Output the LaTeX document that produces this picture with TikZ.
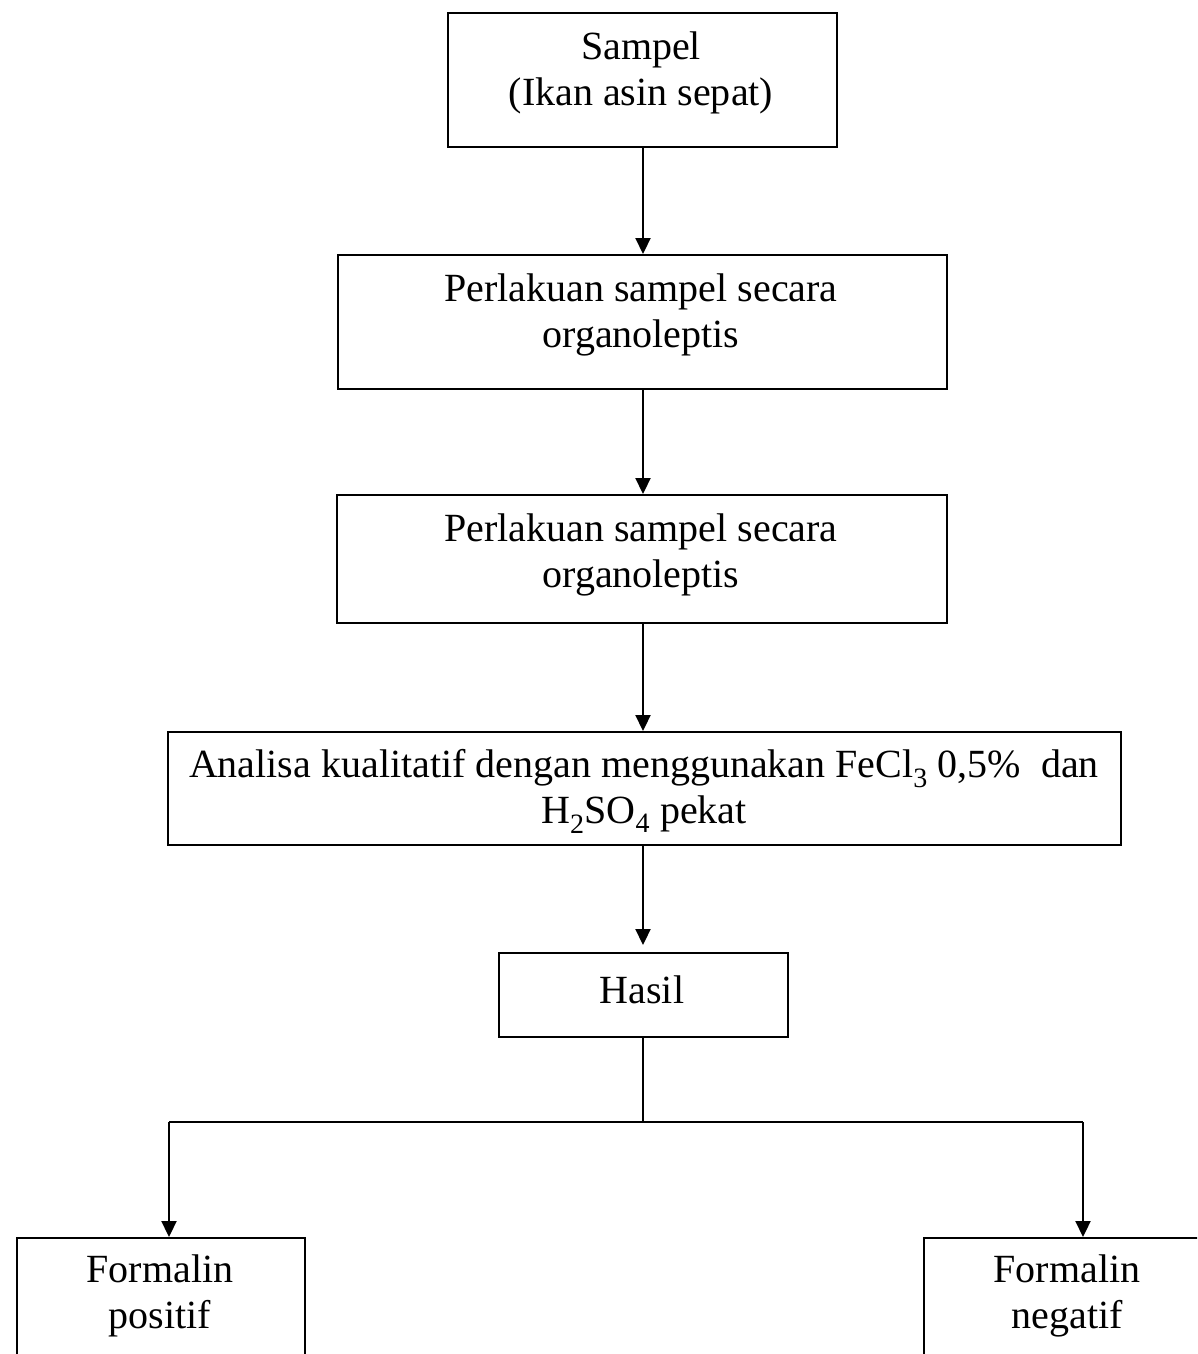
\documentclass[tikz,border=0pt]{standalone}
\usepackage{fontspec}
\setmainfont{Liberation Serif}
\usetikzlibrary{arrows.meta}
\begin{document}
\begin{tikzpicture}[x=1pt,y=-1pt,
  box/.style={draw,line width=2pt,minimum width=#1,inner sep=0pt,anchor=north west},
  txt/.style={font=\fontsize{40}{46}\selectfont,align=center,inner sep=0pt},
  arr/.style={line width=2.2pt,-{Triangle[width=15pt,length=16pt]}},
  ln/.style={line width=2.2pt}]
\useasboundingbox (0,0) rectangle (1197,1354);
\fill[white] (0,0) rectangle (1197,1354);
\begin{scope}
\clip (0,0) rectangle (1197,1354);
\node[box=389pt,minimum height=134pt] (b1) at (447,12) {};
\node[txt] (t1) at (641,73) {Sampel\\(Ikan asin sepat)};
\node[box=609pt,minimum height=134pt] (b2) at (337,254) {};
\node[txt] (t2) at (641,315) {Perlakuan sampel secara\\organoleptis};
\node[box=610pt,minimum height=128pt] (b3) at (336,494) {};
\node[txt] (t3) at (641,555) {Perlakuan sampel secara\\organoleptis};
\node[box=953pt,minimum height=113pt] (b4) at (167,731) {};
\node[txt] (t4) at (644,791) {Analisa kualitatif dengan menggunakan FeCl\textsubscript{3} 0,5\%\ \ dan\\H\textsubscript{2}SO\textsubscript{4} pekat};
\node[box=289pt,minimum height=84pt] (b5) at (498,952) {};
\node[txt] (t5) at (642,990) {Hasil};
\node[box=288pt,minimum height=160pt] (b6) at (16,1237) {};
\node[txt] (t6) at (160,1296) {Formalin\\positif};
\node[box=288pt,minimum height=160pt] (b7) at (923,1237) {};
\node[txt] (t7) at (1067,1296) {Formalin\\negatif};
\coordinate (j) at (643,1122);
\coordinate (jl) at (169,1122);
\coordinate (jr) at (1083,1122);
\draw[arr] (b1.south -| j) -- (b2.north -| j);
\draw[arr] (b2.south -| j) -- (b3.north -| j);
\draw[arr] (b3.south -| j) -- (b4.north -| j);
\draw[arr] (b4.south -| j) -- ([yshift=7pt]b5.north -| j);
\draw[ln] (b5.south -| j) -- (j);
\draw[ln] (jl) -- (jr);
\draw[arr] (jl) -- (b6.north -| jl);
\draw[arr] (jr) -- (b7.north -| jr);
\end{scope}
\end{tikzpicture}
\end{document}
